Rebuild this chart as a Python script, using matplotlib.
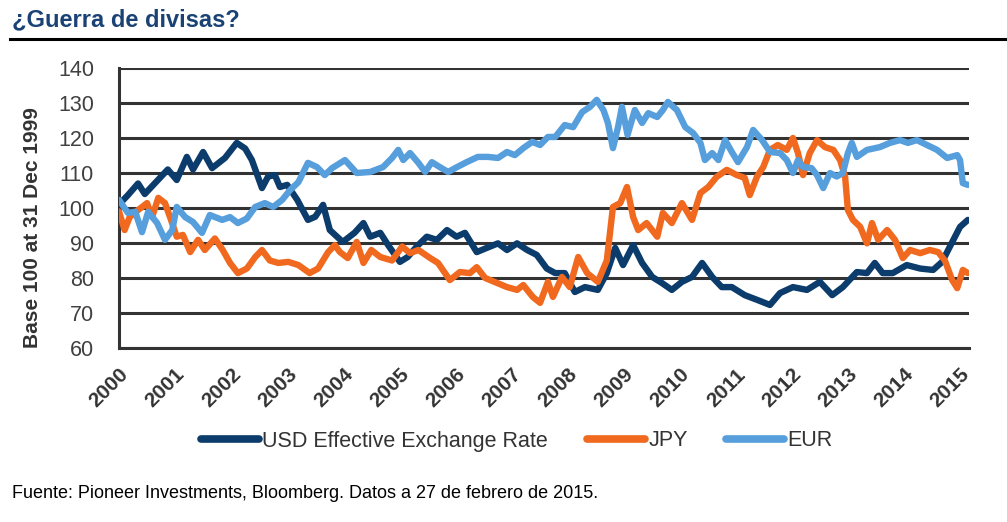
import matplotlib
matplotlib.use('Agg')
import matplotlib.pyplot as plt

# =============================================================================
# data (decimal year, index base 100 at 31 Dec 1999)
# =============================================================================

usd_t = [2000.00, 2000.16, 2000.34, 2000.46, 2000.87, 2001.03, 2001.21, 2001.32, 2001.50, 2001.66,
         2001.89, 2002.10, 2002.25, 2002.37, 2002.55, 2002.66, 2002.78, 2002.87, 2003.00, 2003.18,
         2003.37, 2003.50, 2003.64, 2003.76, 2003.99, 2004.20, 2004.36, 2004.48, 2004.66, 2004.80,
         2005.01, 2005.15, 2005.31, 2005.49, 2005.67, 2005.85, 2006.02, 2006.17, 2006.38, 2006.56,
         2006.76, 2006.92, 2007.10, 2007.28, 2007.45, 2007.63, 2007.78, 2007.95, 2008.13, 2008.31,
         2008.54, 2008.70, 2008.85, 2008.99, 2009.17, 2009.33, 2009.51, 2009.68, 2009.86, 2010.04,
         2010.22, 2010.40, 2010.58, 2010.75, 2010.93, 2011.16, 2011.39, 2011.61, 2011.79, 2012.02,
         2012.27, 2012.50, 2012.72, 2012.91, 2013.16, 2013.34, 2013.48, 2013.62, 2013.80, 2014.05,
         2014.29, 2014.52, 2014.68, 2014.82, 2015.00, 2015.14]
usd_v = [101.0, 103.7, 107.0, 104.0, 111.0, 108.0, 114.6, 111.0, 116.0, 111.4,
         114.3, 118.6, 117.0, 113.7, 105.7, 109.0, 109.4, 106.0, 106.6, 102.3,
         96.6, 97.5, 100.9, 93.7, 90.3, 92.9, 95.7, 91.8, 92.9, 89.4,
         84.6, 86.0, 89.0, 91.8, 90.9, 93.7, 91.8, 92.9, 87.4, 88.6,
         89.9, 88.0, 89.9, 88.0, 86.6, 82.7, 81.4, 81.4, 76.0, 77.4,
         76.6, 81.4, 88.6, 83.7, 89.4, 84.3, 80.3, 78.6, 76.6, 78.9,
         80.3, 84.3, 80.3, 77.4, 77.4, 75.1, 73.7, 72.3, 75.7, 77.4,
         76.6, 78.9, 75.1, 77.4, 81.7, 81.4, 84.3, 81.4, 81.4, 83.7,
         82.7, 82.3, 84.6, 89.0, 94.6, 96.6]

jpy_t = [2000.00, 2000.10, 2000.19, 2000.34, 2000.50, 2000.59, 2000.70, 2000.82, 2000.91, 2001.03,
         2001.14, 2001.27, 2001.41, 2001.53, 2001.71, 2001.85, 2001.98, 2002.12, 2002.28, 2002.43,
         2002.55, 2002.69, 2002.84, 2003.02, 2003.20, 2003.40, 2003.55, 2003.73, 2003.85, 2003.94,
         2004.08, 2004.24, 2004.36, 2004.50, 2004.66, 2004.87, 2005.05, 2005.19, 2005.34, 2005.55,
         2005.69, 2005.90, 2006.08, 2006.26, 2006.38, 2006.53, 2006.74, 2006.92, 2007.10, 2007.21,
         2007.38, 2007.51, 2007.65, 2007.74, 2007.90, 2008.04, 2008.19, 2008.35, 2008.54, 2008.70,
         2008.81, 2008.94, 2009.06, 2009.17, 2009.26, 2009.41, 2009.60, 2009.70, 2009.86, 2010.04,
         2010.22, 2010.37, 2010.51, 2010.66, 2010.84, 2011.02, 2011.16, 2011.25, 2011.38, 2011.49,
         2011.61, 2011.75, 2011.91, 2012.02, 2012.11, 2012.20, 2012.32, 2012.45, 2012.59, 2012.74,
         2012.86, 2012.95, 2013.00, 2013.09, 2013.22, 2013.34, 2013.43, 2013.54, 2013.70, 2013.84,
         2013.98, 2014.11, 2014.29, 2014.46, 2014.61, 2014.73, 2014.86, 2014.95, 2015.05, 2015.14]
jpy_v = [99.0, 93.7, 97.4, 99.4, 101.4, 97.4, 102.9, 101.4, 97.4, 91.8,
         92.3, 87.4, 90.9, 88.0, 91.3, 88.0, 84.3, 81.4, 82.7, 86.0,
         88.0, 85.0, 84.3, 84.6, 83.7, 81.4, 82.7, 87.4, 89.4, 87.4,
         85.7, 90.3, 84.3, 88.0, 86.0, 85.0, 89.0, 87.1, 88.0, 85.7,
         84.3, 79.4, 81.7, 81.4, 83.1, 80.0, 78.6, 77.4, 76.6, 78.0,
         74.6, 72.9, 78.9, 74.6, 80.3, 77.4, 86.0, 81.4, 78.9, 85.0,
         100.3, 101.4, 106.0, 97.4, 93.7, 95.7, 91.8, 98.6, 95.7, 101.4,
         96.6, 104.3, 106.0, 108.9, 110.9, 109.4, 108.6, 103.7, 109.0, 111.7,
         116.6, 118.0, 116.6, 120.0, 115.7, 109.4, 115.7, 119.4, 117.4, 116.6,
         113.7, 109.0, 99.4, 96.6, 94.6, 89.9, 95.7, 90.9, 93.7, 90.9,
         85.7, 88.0, 87.1, 88.0, 87.4, 85.0, 79.4, 77.1, 82.3, 81.4]

eur_t = [2000.00, 2000.16, 2000.29, 2000.41, 2000.52, 2000.68, 2000.82, 2000.95, 2001.03, 2001.18,
         2001.32, 2001.48, 2001.62, 2001.84, 2001.98, 2002.12, 2002.28, 2002.43, 2002.60, 2002.75,
         2002.91, 2003.05, 2003.20, 2003.37, 2003.53, 2003.67, 2003.80, 2004.03, 2004.24, 2004.48,
         2004.71, 2004.87, 2004.98, 2005.07, 2005.19, 2005.34, 2005.46, 2005.58, 2005.72, 2005.87,
         2006.03, 2006.20, 2006.40, 2006.58, 2006.76, 2006.92, 2007.06, 2007.21, 2007.37, 2007.51,
         2007.65, 2007.78, 2007.95, 2008.10, 2008.26, 2008.40, 2008.52, 2008.64, 2008.72, 2008.81,
         2008.90, 2008.97, 2009.07, 2009.20, 2009.33, 2009.44, 2009.60, 2009.70, 2009.79, 2009.95,
         2010.10, 2010.24, 2010.37, 2010.45, 2010.58, 2010.69, 2010.81, 2010.93, 2011.04, 2011.20,
         2011.31, 2011.47, 2011.61, 2011.79, 2011.91, 2012.02, 2012.11, 2012.20, 2012.35, 2012.45,
         2012.56, 2012.68, 2012.80, 2012.91, 2013.00, 2013.07, 2013.16, 2013.34, 2013.57, 2013.75,
         2013.93, 2014.07, 2014.23, 2014.41, 2014.59, 2014.77, 2014.95, 2015.00, 2015.05, 2015.14]
eur_v = [102.3, 98.6, 98.9, 93.1, 98.9, 95.7, 90.9, 93.7, 100.3, 97.4,
         96.0, 92.9, 98.0, 96.6, 97.4, 95.7, 97.0, 100.3, 101.4, 100.3,
         102.3, 105.1, 107.4, 112.9, 111.7, 109.4, 111.4, 113.7, 110.0, 110.3,
         111.7, 114.3, 116.6, 113.7, 115.7, 112.9, 110.3, 113.1, 111.7, 110.3,
         111.7, 113.1, 114.6, 114.6, 114.3, 116.0, 115.1, 117.1, 118.9, 118.0,
         120.3, 120.3, 123.7, 123.1, 127.4, 128.9, 130.9, 128.0, 124.3, 117.1,
         123.1, 128.9, 120.9, 128.0, 124.3, 127.1, 126.0, 128.0, 130.3, 128.0,
         123.1, 121.4, 118.6, 113.7, 115.7, 113.7, 119.4, 116.0, 113.1, 117.4,
         122.3, 119.4, 116.0, 115.7, 113.7, 110.0, 113.7, 111.7, 111.4, 109.4,
         105.7, 110.0, 109.0, 110.0, 115.7, 118.6, 114.6, 116.6, 117.4, 118.6,
         119.4, 118.6, 119.4, 118.0, 116.6, 114.3, 115.1, 113.7, 107.1, 106.6]

years = list(range(2000, 2016))
yticks = list(range(60, 141, 10))

labels = ['USD Effective Exchange Rate', 'JPY', 'EUR']
colors = ['#0b3c6c', '#f0691e', '#569edc']

# =============================================================================
# figure
# =============================================================================

plt.rcParams['font.family'] = ['Liberation Sans', 'DejaVu Sans']

fig = plt.figure(figsize=(10.07, 5.22), dpi=100)
ax = fig.add_axes([119/1007, 1-348/522, 850/1007, 280/522])

for t, v, lab, c in zip([usd_t, jpy_t, eur_t], [usd_v, jpy_v, eur_v], labels, colors):
    ax.plot(t, v, color=c, lw=4.6, label=lab, solid_joinstyle='round', solid_capstyle='round', zorder=3)

ax.set_xlim(2000, 2015.16)
ax.set_ylim(60, 140)
ax.set_yticks(yticks)
ax.set_xticks(years)
ax.set_xticklabels([str(y) for y in years], rotation=45, ha='right', va='top',
                   rotation_mode='anchor', fontsize=15, fontweight='bold', color='#333333')
ax.tick_params(axis='x', length=0, pad=12)
ax.tick_params(axis='y', length=0, pad=18, labelsize=15.5, labelcolor='#404040')

ax.grid(axis='y', color='#333333', lw=2.2, zorder=1)
ax.set_axisbelow(True)
for s in ['top', 'right']:
    ax.spines[s].set_visible(False)
for s in ['left', 'bottom']:
    ax.spines[s].set_color('#333333')
    ax.spines[s].set_linewidth(2.2)

fig.text(33/1007, 1-228/522, 'Base 100 at 31 Dec 1999', rotation=90, ha='center', va='center',
         fontsize=15, fontweight='bold', color='#333333')

# title and rule
fig.text(12/1007, 1-20/522, '¿Guerra de divisas?', ha='left', va='center', fontsize=17,
         fontweight='bold', color='#1a4274')
fig.add_artist(plt.Line2D([10/1007, 1], [1-39/522, 1-39/522], color='black', lw=2.2))

leg = fig.legend(loc='center', bbox_to_anchor=(517/1007, 1-441/522), ncol=3, frameon=False,
                 fontsize=15.5, handlelength=2.7, handletextpad=0.15, columnspacing=1.8)
for h in leg.get_lines():
    h.set_linewidth(5.5)
    h.set_solid_capstyle('round')
for txt in leg.get_texts():
    txt.set_color('#333333')

fig.text(12/1007, 1-493/522, 'Fuente: Pioneer Investments, Bloomberg. Datos a 27 de febrero de 2015.',
         ha='left', va='center', fontsize=13, color='black')

fig.savefig('out.png', dpi=100)
